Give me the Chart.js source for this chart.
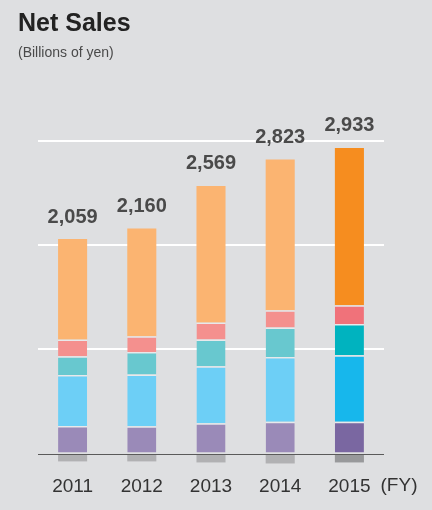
<!DOCTYPE html>
<html>
<head>
<meta charset="utf-8">
<script src="https://cdn.jsdelivr.net/npm/chart.js@4/dist/chart.umd.min.js"></script>
<style>
  html, body { margin: 0; padding: 0; background: #dedfe1; }
  #wrap { position: relative; width: 432px; height: 510px; }
</style>
</head>
<body>
<div id="wrap"><canvas id="chart" width="432" height="510"></canvas></div>
<script>
const years = ['2011', '2012', '2013', '2014', '2015'];
const totals = [2059, 2160, 2569, 2823, 2933];
const elimination = [-75, -75, -85, -95, -85];
const segPurple = [265, 263, 291, 305, 305];
const segBlue = [490, 497, 548, 621, 638];
const segTeal = [180, 215, 257, 283, 301];
const segPink = [160, 151, 163, 166, 180];
const segOrange = [964, 1034, 1310, 1448, 1509];
const gridValues = [0, 1000, 2000, 3000];

// light shades for past years, strong shade for the latest year
function shades(light, dark) {
  return years.map((y, i) => i === years.length - 1 ? dark : light);
}

const sep = 'rgba(232,233,235,0.95)';

function seg(data, light, dark, line) {
  return {
    data: data,
    backgroundColor: shades(light, dark),
    borderColor: sep,
    borderWidth: line ? { top: 1.5, left: 0, right: 0, bottom: 0 } : 0,
    borderSkipped: 'start',
    barPercentage: 0.42,
    categoryPercentage: 1
  };
}

const labelsPlugin = {
  id: 'labels',
  beforeDraw(chart) {
    const ctx = chart.ctx;
    ctx.save();
    ctx.fillStyle = '#222';
    ctx.textBaseline = 'alphabetic';
    ctx.font = 'bold 25px "Liberation Sans", Arial, sans-serif';
    ctx.fillText('Net Sales', 18, 31);
    ctx.fillStyle = '#4a4a4a';
    ctx.font = '14px "Liberation Sans", Arial, sans-serif';
    ctx.fillText('(Billions of yen)', 18, 57);
    ctx.restore();
  },
  afterDatasetsDraw(chart) {
    const ctx = chart.ctx;
    const y = chart.scales.y;
    const area = chart.chartArea;
    ctx.save();
    // zero line over the bars
    const y0 = Math.round(y.getPixelForValue(0)) + 0.5;
    ctx.strokeStyle = '#5a5a5a';
    ctx.lineWidth = 1.2;
    ctx.beginPath();
    ctx.moveTo(area.left, y0);
    ctx.lineTo(area.right, y0);
    ctx.stroke();
    // totals above bars
    const top = chart.getDatasetMeta(chart.data.datasets.length - 1);
    ctx.fillStyle = '#4a4a4a';
    ctx.font = 'bold 20px "Liberation Sans", Arial, sans-serif';
    ctx.textAlign = 'center';
    ctx.textBaseline = 'middle';
    top.data.forEach((bar, i) => {
      ctx.fillText(totals[i].toLocaleString('en-US'), bar.x, bar.y - 22);
    });
    // unit label next to the year ticks
    ctx.fillStyle = '#333';
    ctx.font = '19px "Liberation Sans", Arial, sans-serif';
    ctx.fillText('(FY)', 399, 486);
    ctx.restore();
  }
};

new Chart(document.getElementById('chart'), {
  type: 'bar',
  data: {
    labels: years,
    datasets: [
      seg(elimination, '#b1b1b3', '#98999b', false),
      seg(segPurple, '#9a8ab8', '#7a67a1', true),
      seg(segBlue, '#6dcff6', '#17b7ec', true),
      seg(segTeal, '#68c8cf', '#00b3bf', true),
      seg(segPink, '#f4908e', '#f0727a', true),
      seg(segOrange, '#fbb471', '#f68d1f', false)
    ]
  },
  options: {
    responsive: false,
    devicePixelRatio: 1,
    animation: false,
    layout: { padding: { left: 38, right: 48, top: 141, bottom: 0 } },
    plugins: { legend: { display: false }, tooltip: { enabled: false } },
    scales: {
      x: {
        stacked: true,
        grid: { display: false, drawTicks: false },
        border: { display: false },
        ticks: {
          color: '#333',
          padding: 11.6,
          font: { size: 19, family: '"Liberation Sans", Arial, sans-serif' }
        }
      },
      y: {
        stacked: true,
        min: -100,
        max: 3000,
        afterBuildTicks(axis) {
          axis.ticks = gridValues.map(v => ({ value: v }));
        },
        ticks: { display: false },
        border: { display: false },
        grid: {
          drawTicks: false,
          color: ctx => ctx.tick && ctx.tick.value === 0 ? 'rgba(0,0,0,0)' : '#ffffff',
          lineWidth: 2
        }
      }
    }
  },
  plugins: [labelsPlugin]
});
</script>
</body>
</html>
